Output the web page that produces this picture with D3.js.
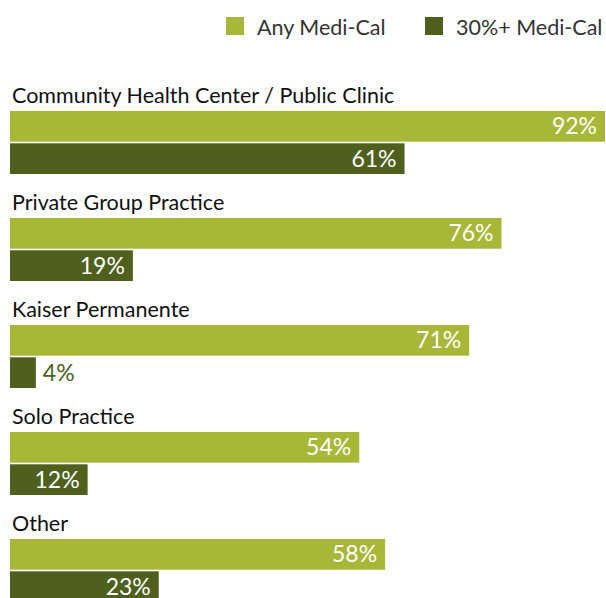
<!DOCTYPE html>
<html lang="en">
<head>
<meta charset="utf-8">
<title>Medi-Cal by practice setting</title>
<style>
  body { margin: 0; background: #fff; }
  text { font-family: 'Lato', 'Open Sans', sans-serif; }
</style>
</head>
<body>
<svg id="chart" width="606" height="598"></svg>
<script src="https://d3js.org/d3.v7.min.js"></script>
<script>
const categories = ["Community Health Center / Public Clinic", "Private Group Practice", "Kaiser Permanente", "Solo Practice", "Other"];
const series = ["Any Medi-Cal", "30%+ Medi-Cal"];
const anyMediCal = [92, 76, 71, 54, 58];
const mediCal30 = [61, 19, 4, 12, 23];
const colors = ["#a9b738", "#4f601e"];

const svg = d3.select("#chart");

const x = d3.scaleLinear().domain([0, 92]).range([10, 605]);
const yGroup = d3.scaleBand().domain(categories).range([111, 111 + 107 * 5]).paddingInner(0).paddingOuter(0);
const ySeries = d3.scaleBand().domain(series).range([0, 63]).paddingInner(0.05);

// legend
const legend = svg.append("g");
const legendX = [226, 425];
series.forEach((s, i) => {
    legend.append("rect")
        .attr("x", legendX[i]).attr("y", 17)
        .attr("width", 18).attr("height", 18)
        .attr("fill", colors[i]);
    legend.append("text")
        .attr("x", legendX[i] + 31).attr("y", 35)
        .attr("font-size", 21.5).attr("fill", "#333")
        .text(s);
});

const groups = svg.selectAll("g.group")
    .data(categories)
    .join("g")
    .attr("class", "group")
    .attr("transform", d => "translate(0," + yGroup(d) + ")");

groups.append("text")
    .attr("x", 12).attr("y", -8)
    .attr("font-size", 21.5).attr("fill", "#111")
    .text(d => d);

categories.forEach((c, i) => {
    const vals = [anyMediCal[i], mediCal30[i]];
    const g = groups.filter(d => d === c);
    series.forEach((s, j) => {
        const v = vals[j];
        const w = x(v) - x(0);
        g.append("rect")
            .attr("x", x(0)).attr("y", ySeries(s))
            .attr("width", w).attr("height", ySeries.bandwidth())
            .attr("fill", colors[j]);
        const inside = w > 50;
        g.append("text")
            .attr("x", inside ? x(v) - 8 : x(v) + 7)
            .attr("y", ySeries(s) + ySeries.bandwidth() / 2 + 8)
            .attr("text-anchor", inside ? "end" : "start")
            .attr("font-size", 23)
            .attr("fill", inside ? "#fff" : colors[j])
            .text(v + "%");
    });
});
</script>
</body>
</html>
